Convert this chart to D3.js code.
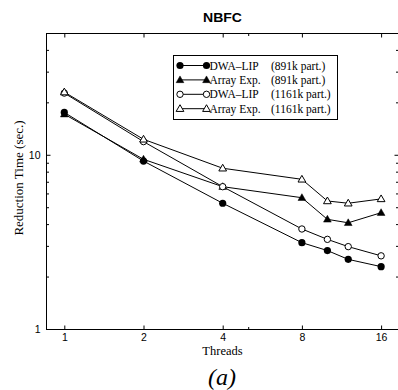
<!DOCTYPE html>
<html>
<head>
<meta charset="utf-8">
<script src="https://cdn.jsdelivr.net/npm/d3@7"></script>
<style>
  html, body { margin: 0; padding: 0; background: #fff; }
  svg { display: block; }
</style>
</head>
<body>
<svg id="chart" width="398" height="390"></svg>
<script>
const threads = [1, 2, 4, 8, 10, 12, 16];
const dwaLip891 = [17.5, 9.2, 5.27, 3.13, 2.82, 2.51, 2.28];
const arrayExp891 = [17.1, 9.42, 6.56, 5.67, 4.26, 4.07, 4.65];
const dwaLip1161 = [22.6, 11.9, 6.56, 3.75, 3.27, 2.97, 2.63];
const arrayExp1161 = [22.9, 12.27, 8.37, 7.23, 5.43, 5.27, 5.58];
const seriesNames = ["DWA\u2013LIP", "Array Exp.", "DWA\u2013LIP", "Array Exp."];
const seriesParts = ["(891k part.)", "(891k part.)", "(1161k part.)", "(1161k part.)"];
const xTicks = [1, 2, 4, 8, 16];
const xMinorTicks = [5];
const yTicks = [1, 10];
const yMinorTicks = [2, 3, 4, 5, 6, 7, 8, 9, 20, 30, 40];
const title = "NBFC";
const xLabel = "Threads";
const yLabel = "Reduction Time (sec.)";
const caption = "(a)";

const series = [
  { values: dwaLip891, shape: "circle", filled: true },
  { values: arrayExp891, shape: "triangle", filled: true },
  { values: dwaLip1161, shape: "circle", filled: false },
  { values: arrayExp1161, shape: "triangle", filled: false }
];

const svg = d3.select("#chart");
const L = 46, R = 398, T = 33, B = 329;

const x = d3.scaleLog().base(2).domain([0.852, 18.55]).range([L, R]);
const y = d3.scaleLog().domain([1, 50]).range([B, T]);

const sans = "'Liberation Sans', Arial, Helvetica, sans-serif";
const serif = "'Liberation Serif', 'Times New Roman', Times, serif";

// frame
svg.append("rect")
  .attr("x", L + 0.5).attr("y", T + 0.5)
  .attr("width", R - L).attr("height", B - T)
  .attr("fill", "none").attr("stroke", "#000").attr("stroke-width", 1);

function styleAxis(g) {
  g.select(".domain").remove();
  g.selectAll(".tick line").attr("stroke", "#000").attr("stroke-width", 1);
  g.selectAll(".tick text").attr("fill", "#000").attr("font-family", sans).attr("font-size", "10.5px");
}

// bottom
svg.append("g").attr("transform", `translate(0,${B + 0.5})`)
  .call(d3.axisBottom(x).tickValues(xTicks).tickFormat(d3.format("d")).tickSize(-4).tickPadding(4))
  .call(styleAxis);
svg.append("g").attr("transform", `translate(0,${B + 0.5})`)
  .call(d3.axisBottom(x).tickValues(xMinorTicks).tickFormat("").tickSize(-2.5))
  .call(styleAxis);
// top
svg.append("g").attr("transform", `translate(0,${T + 0.5})`)
  .call(d3.axisTop(x).tickValues(xTicks).tickFormat("").tickSize(-4))
  .call(styleAxis);
svg.append("g").attr("transform", `translate(0,${T + 0.5})`)
  .call(d3.axisTop(x).tickValues(xMinorTicks).tickFormat("").tickSize(-2.5))
  .call(styleAxis);
// left
svg.append("g").attr("transform", `translate(${L + 0.5},0)`)
  .call(d3.axisLeft(y).tickValues(yTicks).tickFormat(d3.format("d")).tickSize(-4).tickPadding(6))
  .call(styleAxis);
svg.append("g").attr("transform", `translate(${L + 0.5},0)`)
  .call(d3.axisLeft(y).tickValues(yMinorTicks).tickFormat("").tickSize(-2.5))
  .call(styleAxis);
// right
svg.append("g").attr("transform", `translate(${R + 0.5},0)`)
  .call(d3.axisRight(y).tickValues(yTicks).tickFormat("").tickSize(-4))
  .call(styleAxis);
svg.append("g").attr("transform", `translate(${R + 0.5},0)`)
  .call(d3.axisRight(y).tickValues(yMinorTicks).tickFormat("").tickSize(-2.5))
  .call(styleAxis);

const line = d3.line().x(d => x(d[0])).y(d => y(d[1]));
const triSym = d3.symbol().type(d3.symbolTriangle).size(26)();

function drawMarker(g, shape, filled, cx, cy) {
  if (shape === "circle") {
    g.append("circle").attr("cx", cx).attr("cy", cy)
      .attr("r", filled ? 3.6 : 3.2)
      .attr("fill", filled ? "#000" : "#fff")
      .attr("stroke", "#000").attr("stroke-width", filled ? 0 : 1);
  } else {
    g.append("path").attr("d", triSym)
      .attr("transform", `translate(${cx},${cy + 0.5})`)
      .attr("fill", filled ? "#000" : "#fff")
      .attr("stroke", "#000").attr("stroke-width", filled ? 0.5 : 1);
  }
}

// lines then markers
const plot = svg.append("g");
series.forEach(s => {
  const pts = threads.map((t, i) => [t, s.values[i]]);
  plot.append("path").attr("d", line(pts))
    .attr("fill", "none").attr("stroke", "#000").attr("stroke-width", 1);
});
series.forEach(s => {
  threads.forEach((t, i) => drawMarker(plot, s.shape, s.filled, x(t), y(s.values[i])));
});

// legend
const lg = svg.append("g");
lg.append("rect").attr("x", 173.5).attr("y", 55.5).attr("width", 164).attr("height", 64)
  .attr("fill", "#fff").attr("stroke", "#000").attr("stroke-width", 1);
series.forEach((s, i) => {
  const ry = 65.5 + i * 14.4;
  lg.append("line").attr("x1", 180).attr("x2", 206.5).attr("y1", ry).attr("y2", ry)
    .attr("stroke", "#000").attr("stroke-width", 1);
  drawMarker(lg, s.shape, s.filled, 180, ry);
  drawMarker(lg, s.shape, s.filled, 206.5, ry);
  lg.append("text").attr("x", 209.5).attr("y", ry + 4)
    .attr("font-family", serif).attr("font-size", "11.5px").text(seriesNames[i]);
  lg.append("text").attr("x", 271).attr("y", ry + 4)
    .attr("font-family", serif).attr("font-size", "11.5px").text(seriesParts[i]);
});

// title
svg.append("text").attr("x", 222.5).attr("y", 21.8).attr("text-anchor", "middle")
  .attr("font-family", sans).attr("font-weight", "bold").attr("font-size", "12px")
  .attr("textLength", 39).attr("lengthAdjust", "spacingAndGlyphs")
  .text(title);

// axis labels
svg.append("text").attr("x", 222.5).attr("y", 355).attr("text-anchor", "middle")
  .attr("font-family", serif).attr("font-size", "12.5px").text(xLabel);
svg.append("text").attr("transform", "translate(23,178) rotate(-90)").attr("text-anchor", "middle")
  .attr("font-family", serif).attr("font-size", "13px").text(yLabel);

// caption
svg.append("text").attr("x", 222).attr("y", 384.5).attr("text-anchor", "middle")
  .attr("font-family", serif).attr("font-style", "italic").attr("font-size", "24px").text(caption);
</script>
</body>
</html>
